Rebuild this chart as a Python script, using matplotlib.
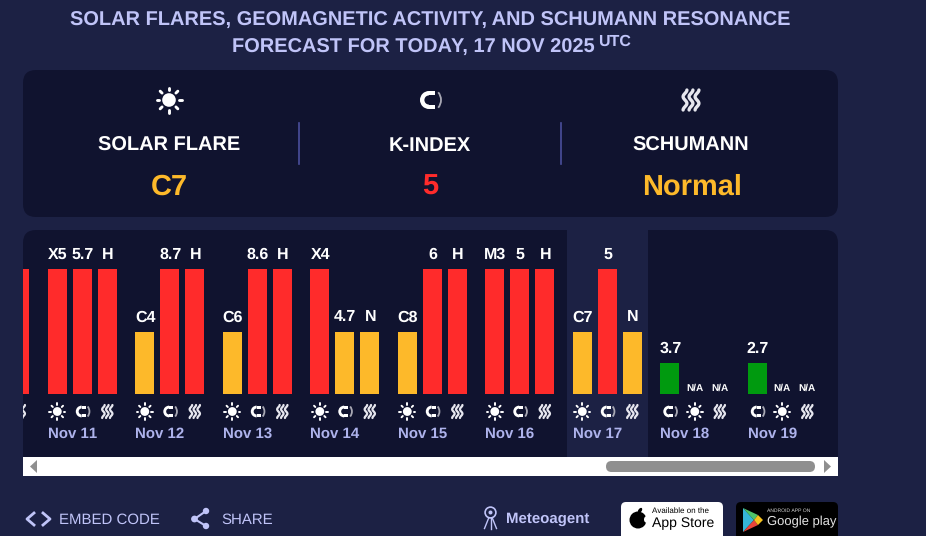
import numpy as np
import matplotlib
matplotlib.use("Agg")
import matplotlib.pyplot as plt
from matplotlib.patches import Arc, Circle, Ellipse, FancyBboxPatch, Polygon, Rectangle, Wedge

plt.rcParams["font.family"] = ["Liberation Sans", "DejaVu Sans"]
plt.rcParams["text.hinting"] = "none"
plt.rcParams["text.hinting_factor"] = 1

DAYS = ["Nov 10", "Nov 11", "Nov 12", "Nov 13", "Nov 14", "Nov 15", "Nov 16", "Nov 17", "Nov 18", "Nov 19"]

# Each day has three bars: label text and severity level (4 red, 2 yellow, 1 green, 0 no data)
FIRST_LABELS = ["", "X5", "C4", "C6", "X4", "C8", "M3", "C7", "3.7", "2.7"]
FIRST_LEVELS = [4, 4, 2, 2, 4, 2, 4, 2, 1, 1]
SECOND_LABELS = ["", "5.7", "8.7", "8.6", "4.7", "6", "5", "5", "N/A", "N/A"]
SECOND_LEVELS = [4, 4, 4, 4, 2, 4, 4, 4, 0, 0]
THIRD_LABELS = ["H", "H", "H", "H", "N", "H", "H", "N", "N/A", "N/A"]
THIRD_LEVELS = [4, 4, 4, 4, 2, 4, 4, 2, 0, 0]

# Icon order under the bars, forecast days lead with the k-index
FIRST_ICONS = ["sun"] * 8 + ["magnet"] * 2
SECOND_ICONS = ["magnet"] * 8 + ["sun"] * 2

SUMMARY_HEADS = ["SOLAR FLARE", "K-INDEX", "SCHUMANN"]
SUMMARY_VALUES = ["C7", "5", "Normal"]
SUMMARY_ICONS = ["sun", "magnet", "waves"]

BG = "#1c2144"
PANEL = "#10132f"
LILAC = "#c0c4f8"
DATE_COLOR = "#aeb3ec"
RED = "#ff2b2b"
YELLOW = "#fdb92a"
GREEN = "#009a0f"
LEVEL_COLORS = {4: RED, 2: YELLOW, 1: GREEN, 0: PANEL}


# Font sizes below are given in pixels, the figure is saved at 100 dpi
def px(size):
  return size * 0.72


def add_axes_px(fig, left, top, right, bottom):
  ax = fig.add_axes([left / 926, 1 - bottom / 536, (right - left) / 926, (bottom - top) / 536])
  ax.patch.set_alpha(0)
  ax.axis("off")
  return ax


def rounded(ax, left, top, right, bottom, radius, color, z=1):
  box = FancyBboxPatch((left + radius, top + radius), right - left - 2 * radius, bottom - top - 2 * radius,
                       boxstyle=f"round,pad={radius},rounding_size={radius}", fc=color, ec="none", zorder=z)
  ax.add_patch(box)


def draw_sun(ax, x, y, scale=1.0):
  ax.add_patch(Circle((x, y), 6.8 * scale, fc="white", ec="none"))
  for angle in np.arange(8) * np.pi / 4:
    dx, dy = np.cos(angle), np.sin(angle)
    ax.plot([x + 9.8 * scale * dx, x + 12.5 * scale * dx], [y + 9.8 * scale * dy, y + 12.5 * scale * dy],
            color="white", lw=2.0 * scale + 0.1, solid_capstyle="round")


def draw_magnet(ax, x, y, scale=1.0):
  cx = x - 1 * scale
  thick = 4.4 * scale
  ax.add_patch(Wedge((cx, y), 9 * scale, 90, 270, width=thick, fc="white", ec="none"))
  # Short straight legs on the open side
  ax.add_patch(Rectangle((cx, y - 9 * scale), 6 * scale, thick, fc="white", ec="none"))
  ax.add_patch(Rectangle((cx, y + 9 * scale - thick), 6 * scale, thick, fc="white", ec="none"))
  ax.add_patch(Arc((cx, y), 24 * scale, 24 * scale, theta1=-40, theta2=40, color="#a8a8b4", lw=1.3))


def draw_waves(ax, x, y, scale=1.0):
  t = np.linspace(-1, 1, 40)
  for shift in (-6, 0, 6):
    wave_x = x + shift * scale + 1.9 * scale * np.sin(t * 1.5 * np.pi)
    ax.plot(wave_x, y + t * 10 * scale, color="#e6e6ee", lw=2.2 * scale + 0.2, solid_capstyle="round")


ICON_DRAWERS = {"sun": draw_sun, "magnet": draw_magnet, "waves": draw_waves}


fig = plt.figure(figsize=(9.26, 5.36), dpi=100, facecolor=BG)

# Page layer, one unit is one pixel
page = add_axes_px(fig, 0, 0, 926, 536)
page.set_xlim(0, 926)
page.set_ylim(536, 0)

page.text(430, 26, "SOLAR FLARES, GEOMAGNETIC ACTIVITY, AND SCHUMANN RESONANCE", color=LILAC,
          fontsize=px(19.9), fontweight="bold", ha="center", va="baseline")
page.text(232, 53, "FORECAST FOR TODAY, 17 NOV 2025", color=LILAC, fontsize=px(19.9), fontweight="bold",
          ha="left", va="baseline")
page.text(598, 45.5, "UTC", color=LILAC, fontsize=px(16), fontweight="bold", ha="left", va="baseline")

# Summary panel
rounded(page, 23, 70, 838, 217, 13, PANEL)
for x, head, icon in zip([169, 430, 691], SUMMARY_HEADS, SUMMARY_ICONS):
  ICON_DRAWERS[icon](page, x, 100)
  page.text(x, 150.7, head, color="white", fontsize=px(20), fontweight="bold", ha="center", va="baseline")
for x, value, color in zip([169, 430, 692], SUMMARY_VALUES, [YELLOW, RED, YELLOW]):
  page.text(x, 194.5, value, color=color, fontsize=px(29), fontweight="bold", ha="center", va="baseline")
for x in (299.2, 560.7):
  page.plot([x, x], [123, 164], color="#4a4f9c", lw=1.2)

# Chart panel and the highlighted current day
rounded(page, 23, 230, 838, 470, 13, PANEL)
page.add_patch(Rectangle((567, 230), 81, 227, fc=BG, ec="none", zorder=1.5))

# Scrollbar
page.add_patch(Rectangle((23, 457), 815, 19, fc="white", ec="none", zorder=2))
rounded(page, 606, 461, 815, 472, 5.5, "#8f8f8f", z=3)
page.add_patch(Polygon([[37, 460], [37, 473], [30, 466.5]], fc="#8f8f8f", ec="none", zorder=3))
page.add_patch(Polygon([[824, 460], [824, 473], [831, 466.5]], fc="#8f8f8f", ec="none", zorder=3))

# Bars, x in pixels from the panel edge and y in severity levels
chart = add_axes_px(fig, 23, 230, 838, 457)
chart.set_xlim(23, 838)
chart.set_ylim(-63 / 31.25, 164 / 31.25)
day_pitch = 87.5
bar_pitch = 25
bar_width = 19
first_center = 57.3 - day_pitch

series = [(FIRST_LABELS, FIRST_LEVELS), (SECOND_LABELS, SECOND_LEVELS), (THIRD_LABELS, THIRD_LEVELS)]
for slot, (labels, levels) in enumerate(series):
  centers = first_center + np.arange(len(DAYS)) * day_pitch + slot * bar_pitch
  chart.bar(centers, levels, width=bar_width, color=[LEVEL_COLORS[v] for v in levels])
  for cx, label, level in zip(centers, labels, levels):
    if not label:
      continue
    if label == "N/A":
      chart.annotate(label, (cx, level), xytext=(0, 6 * 0.72), textcoords="offset points", color="white",
                     fontsize=px(10.5), fontweight="bold", ha="center", va="center", clip_on=True)
    else:
      chart.annotate(label, (cx, level), xytext=(0.4, 14.2 * 0.72), textcoords="offset points", color="white",
                     fontsize=px(15.5), fontweight="bold", ha="center", va="center", clip_on=True)

# Icons and dates share the chart area so they clip at the panel edge
under = add_axes_px(fig, 23, 230, 838, 457)
under.set_xlim(23, 838)
under.set_ylim(457, 230)
for i, day in enumerate(DAYS):
  x0 = first_center + i * day_pitch
  for slot, icon in enumerate([FIRST_ICONS[i], SECOND_ICONS[i], "waves"]):
    ICON_DRAWERS[icon](under, x0 + slot * bar_pitch, 411.5, 0.65)
  # The first day has scrolled out of the panel, only its last bar still shows
  if x0 - 9.5 > 23:
    under.text(x0 - 9.5, 433.5, day, color=DATE_COLOR, fontsize=px(14.7), fontweight="bold", ha="left", va="center")

# Footer links
page.plot([34, 27, 34], [513, 519, 525], color=LILAC, lw=2.0)
page.plot([43, 50, 43], [513, 519, 525], color=LILAC, lw=2.0)
page.text(59, 519.5, "EMBED CODE", color=LILAC, fontsize=px(15), ha="left", va="center")
share_pts = [(206, 511), (194.5, 519), (206, 526)]
page.plot([p[0] for p in share_pts], [p[1] for p in share_pts], color=LILAC, lw=1.5)
for p, r in zip(share_pts, (3.2, 3.4, 3.2)):
  page.add_patch(Circle(p, r, fc=LILAC, ec="none"))
page.text(221, 519.5, "SHARE", color=LILAC, fontsize=px(15), ha="left", va="center")

# Meteoagent mark
page.add_patch(Circle((490.5, 512.5), 5.4, fc="none", ec=LILAC, lw=1.2))
page.add_patch(Circle((490.5, 512.5), 2, fc=LILAC, ec="none"))
for end_x in (484.5, 490.5, 496.5):
  page.plot([490.5 + (end_x - 490.5) * 0.3, end_x], [518, 528.5], color=LILAC, lw=1.0)
page.text(506, 519.5, "Meteoagent", color=LILAC, fontsize=px(15), fontweight="bold", ha="left", va="center")

# Store badges
rounded(page, 621, 502, 723, 542, 5, "white")
page.add_patch(Ellipse((638, 520), 17, 17, fc="black", ec="none"))
page.add_patch(Ellipse((646.5, 519.5), 5, 6.5, fc="white", ec="none"))
page.add_patch(Ellipse((640, 510.5), 3.4, 6, angle=35, fc="black", ec="none"))
page.text(652, 511, "Available on the", color="black", fontsize=px(8), ha="left", va="center")
page.text(652, 523, "App Store", color="black", fontsize=px(14.2), ha="left", va="center")

rounded(page, 736, 502, 838, 542, 5, "black")
page.add_patch(Polygon([[743, 508], [754, 520], [743, 532]], fc="#35b5d8", ec="none"))
page.add_patch(Polygon([[743, 508], [754, 520], [758, 515]], fc="#4fc46a", ec="none"))
page.add_patch(Polygon([[743, 532], [754, 520], [758, 525]], fc="#e8443a", ec="none"))
page.add_patch(Polygon([[758, 515], [754, 520], [758, 525], [763, 520]], fc="#f6c21c", ec="none"))
page.text(767, 510.5, "ANDROID APP ON", color="#d8d8d8", fontsize=px(5), ha="left", va="center")
page.text(767, 521.5, "Google play", color="#e4e4e4", fontsize=px(12.7), ha="left", va="center")

fig.savefig("out.png", dpi=100, facecolor=BG)
